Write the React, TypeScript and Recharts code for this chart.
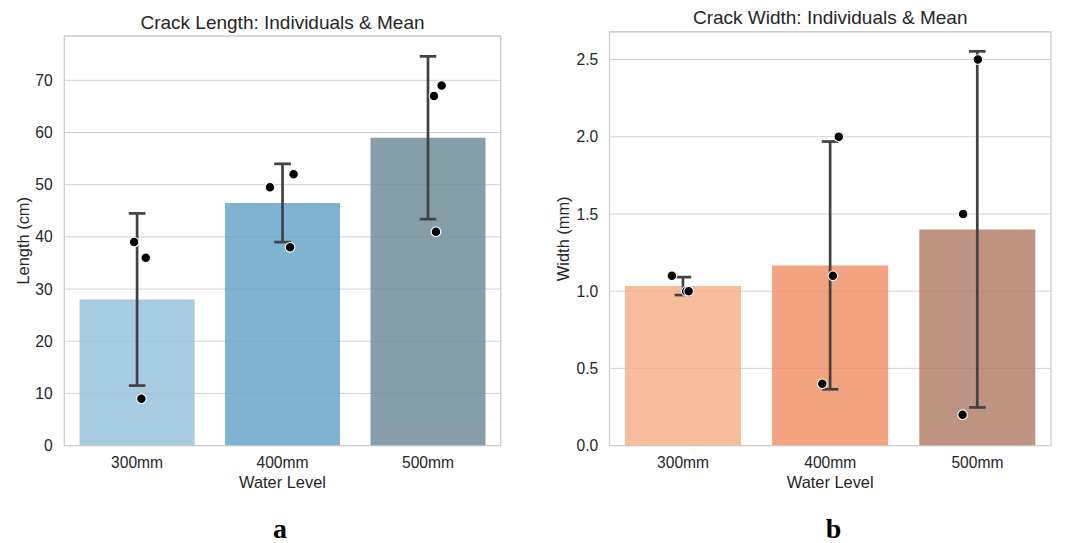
import React from 'react';
import {
  ComposedChart, Bar, Cell, ErrorBar, Scatter, XAxis, YAxis, CartesianGrid, ReferenceArea,
} from 'recharts';

// ---- data ----
const levels = ['300mm', '400mm', '500mm'];

const lengthMeans = [28, 46.5, 59];
const lengthSD = [16.5, 7.5, 15.6];
const lengthTicks = [0, 10, 20, 30, 40, 50, 60, 70];
const lengthColors = ['#91bed8', '#5ea1c7', '#688694'];
// individual points: x = category position incl. strip jitter, y = value
const lengthPtX = [-0.02, 0.06, 0.03, 0.914, 1.076, 1.052, 2.041, 2.094, 2.055];
const lengthPtY = [39, 36, 9, 49.5, 52, 38, 67, 69, 41];

const widthMeans = [1.033, 1.167, 1.4];
const widthSD = [0.058, 0.802, 1.153];
const widthTicks = [0, 0.5, 1.0, 1.5, 2.0, 2.5];
const widthColors = ['#f6ac84', '#f18c60', '#af7862'];
const widthPtX = [-0.076, 0.021, 0.038, 1.058, 1.018, 0.946, 1.903, 2.003, 1.899];
const widthPtY = [1.1, 1.0, 1.0, 2.0, 1.1, 0.4, 1.5, 2.5, 0.2];

const FONT = '"Liberation Sans", Arial, Helvetica, sans-serif';
const TEXT = '#262626';

const dot = (p: any) => (
  <circle cx={p.cx} cy={p.cy} r={4.8} fill="#000" stroke="#fff" strokeWidth={1.1} />
);

type PanelProps = {
  means: number[];
  sds: number[];
  colors: string[];
  ptX: number[];
  ptY: number[];
  ticks: number[];
  yMax: number;
  width: number;
  margin: { top: number; right: number; bottom: number; left: number };
  yAxisWidth: number;
  yTickMargin: number;
  fmt?: (v: number) => string;
};

function Panel(props: PanelProps) {
  const { means, sds, colors, ptX, ptY, ticks, yMax, width, margin, yAxisWidth, yTickMargin, fmt } = props;
  const data = levels.map((l, i) => ({ level: l, mean: means[i], sd: sds[i] }));
  const pts = ptX.map((x, i) => ({ x, y: ptY[i] }));
  const tickStyle = { fontSize: 15.6, fill: TEXT, fontFamily: FONT };
  return (
    <ComposedChart width={width} height={500} data={data} margin={margin} barCategoryGap="10.5%">
      <CartesianGrid vertical={false} stroke="#d2d2d2" strokeWidth={1} yAxisId={0} xAxisId="cat" />
      <XAxis
        xAxisId="cat"
        dataKey="level"
        type="category"
        height={50}
        tickLine={false}
        axisLine={false}
        tickMargin={5.3}
        tick={tickStyle}
        interval={0}
      />
      <XAxis xAxisId="num" dataKey="x" type="number" domain={[-0.5, 2.5]} allowDataOverflow hide />
      <YAxis
        yAxisId={0}
        type="number"
        domain={[0, yMax]}
        allowDataOverflow
        ticks={ticks}
        interval={0}
        width={yAxisWidth}
        tickLine={false}
        axisLine={false}
        tickMargin={yTickMargin}
        tick={tickStyle}
        tickFormatter={fmt}
      />
      <Bar xAxisId="cat" yAxisId={0} dataKey="mean" isAnimationActive={false}>
        {data.map((d, i) => (
          <Cell key={d.level} fill={colors[i]} fillOpacity={0.8} />
        ))}
        <ErrorBar dataKey="sd" direction="y" width={8.3} strokeWidth={2.7} stroke="#424242" isAnimationActive={false} />
      </Bar>
      <ReferenceArea
        xAxisId="num"
        yAxisId={0}
        x1={-0.5}
        x2={2.5}
        y1={0}
        y2={yMax}
        fill="none"
        fillOpacity={0}
        stroke="#cccccc"
        strokeWidth={1.25}
        ifOverflow="visible"
      />
      <Scatter xAxisId="num" yAxisId={0} data={pts} dataKey="y" shape={dot} isAnimationActive={false} />
    </ComposedChart>
  );
}

export default function App() {
  return (
    <div style={{ position: 'absolute', left: 0, top: 0, width: 1065, height: 543, background: '#fff', overflow: 'hidden' }}>
      <div style={{ position: 'absolute', left: 0, top: 0 }}>
        <Panel
          means={lengthMeans}
          sds={lengthSD}
          colors={lengthColors}
          ptX={lengthPtX}
          ptY={lengthPtY}
          ticks={lengthTicks}
          yMax={78.5}
          width={520}
          margin={{ top: 36, right: 19.3, bottom: 4.4, left: 0 }}
          yAxisWidth={64.3}
          yTickMargin={5.6}
        />
      </div>
      <div style={{ position: 'absolute', left: 530, top: 0 }}>
        <Panel
          means={widthMeans}
          sds={widthSD}
          colors={widthColors}
          ptX={widthPtX}
          ptY={widthPtY}
          ticks={widthTicks}
          yMax={2.679}
          width={535}
          margin={{ top: 31.9, right: 14, bottom: 4.4, left: 0 }}
          yAxisWidth={79.5}
          yTickMargin={5.3}
          fmt={(v: number) => v.toFixed(1)}
        />
      </div>
      <svg
        width={1065}
        height={543}
        style={{ position: 'absolute', left: 0, top: 0, pointerEvents: 'none' }}
        fontFamily={FONT}
        fill={TEXT}
      >
        <text x={282.5} y={29.1} fontSize={19} textAnchor="middle">Crack Length: Individuals &amp; Mean</text>
        <text x={830.2} y={23.9} fontSize={19} textAnchor="middle">Crack Width: Individuals &amp; Mean</text>
        <text x={282.5} y={487.5} fontSize={16.4} textAnchor="middle">Water Level</text>
        <text x={830.2} y={487.5} fontSize={16.4} textAnchor="middle">Water Level</text>
        <text transform="translate(23.3,240.8) rotate(-90)" fontSize={16.4} textAnchor="middle" dominantBaseline="central">Length (cm)</text>
        <text transform="translate(562.9,238.8) rotate(-90)" fontSize={16.4} textAnchor="middle" dominantBaseline="central">Width (mm)</text>
        <text x={280} y={538} fontSize={28} fontWeight="bold" textAnchor="middle" fontFamily='"Liberation Serif", "Times New Roman", serif' fill="#000">a</text>
        <text x={833.6} y={538} fontSize={28} fontWeight="bold" textAnchor="middle" fontFamily='"Liberation Serif", "Times New Roman", serif' fill="#000">b</text>
      </svg>
    </div>
  );
}
